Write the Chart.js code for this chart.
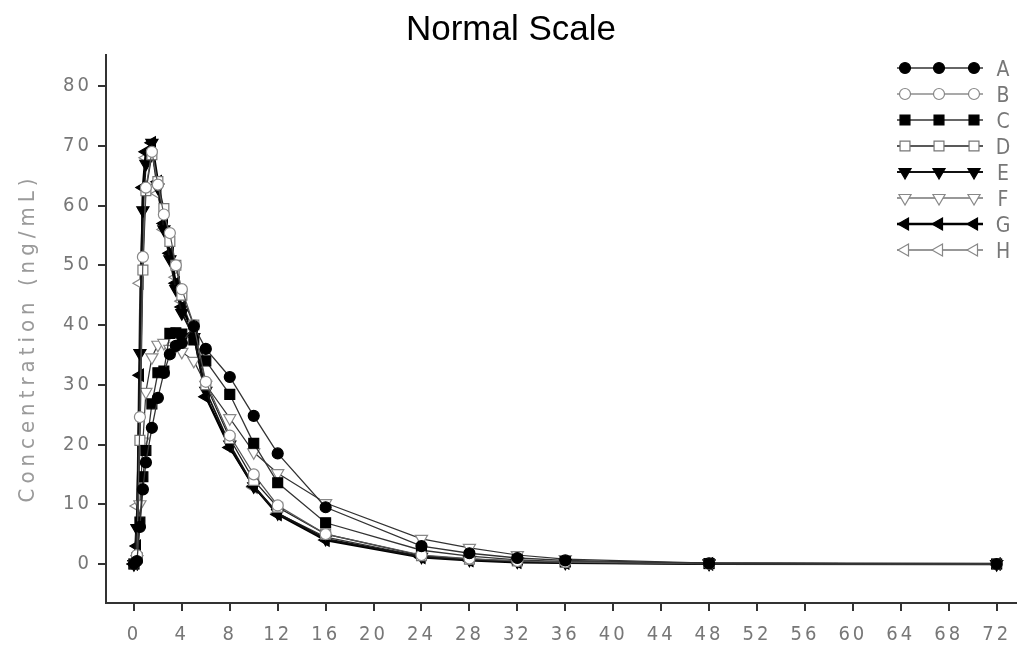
<!DOCTYPE html>
<html><head><meta charset="utf-8">
<script src="https://cdn.jsdelivr.net/npm/chart.js@4/dist/chart.umd.min.js"></script>
<style>html,body{margin:0;padding:0;background:#fff;}#wrap{width:1024px;height:649px;position:relative;}</style>
</head><body><div id="wrap"><canvas id="c" width="1024" height="649"></canvas></div>
<script>
const titleText = "Normal Scale";
const yAxisTitle = "Concentration (ng/mL)";
const seriesNames = ["A","B","C","D","E","F","G","H"];
const times = [0, 0.25, 0.5, 0.75, 1, 1.5, 2, 2.5, 3, 3.5, 4, 5, 6, 8, 10, 12, 16, 24, 28, 32, 36, 48, 72];
const xTicks = [0,4,8,12,16,20,24,28,32,36,40,44,48,52,56,60,64,68,72];
const yTicks = [0,10,20,30,40,50,60,70,80];
const valsA = [0, 0.5, 6.2, 12.5, 17, 22.8, 27.8, 32, 35.1, 36.5, 37, 39.8, 36, 31.3, 24.8, 18.5, 9.5, 3.0, 1.8, 1.0, 0.6, 0.1, 0];
const valsB = [0, 1.5, 24.6, 51.4, 63, 69, 63.5, 58.5, 55.4, 50, 46, 40, 30.5, 21.5, 15, 9.8, 5.0, 1.5, 0.9, 0.5, 0.3, 0.05, 0];
const valsC = [0, 1.0, 7.0, 14.6, 19, 26.8, 32, 32.3, 38.6, 38.7, 38.5, 37.5, 34, 28.4, 20.2, 13.6, 6.9, 2.3, 1.3, 0.7, 0.4, 0.08, 0];
const valsD = [0, 1.0, 20.7, 49.2, 62.5, 68.5, 64, 59.5, 54, 50, 45, 40, 30, 21, 14, 9.5, 5.0, 1.4, 0.8, 0.5, 0.3, 0.05, 0];
const valsE = [0, 6.0, 35.3, 59.2, 67, 70.5, 63, 56, 51, 46, 42, 38, 29, 20, 13, 8.5, 4.2, 1.2, 0.7, 0.4, 0.2, 0.05, 0];
const valsF = [0, 0.8, 10, 20.5, 28.8, 34.6, 36.7, 37, 36, 36.5, 35.5, 34, 30, 24.4, 18.7, 15.2, 10.2, 4.2, 2.7, 1.5, 0.8, 0.15, 0];
const valsG = [0, 3.0, 31.6, 63, 69, 70.5, 64, 57, 52, 47, 43, 38.5, 28, 19.5, 13, 8.3, 4.0, 1.1, 0.6, 0.3, 0.2, 0.03, 0];
const valsH = [0, 9.7, 47, 63, 68, 69, 62, 56, 52, 48, 44, 38.5, 28, 19.5, 12.8, 8.5, 4.5, 1.3, 0.7, 0.4, 0.2, 0.03, 0];
const allVals = [valsA, valsB, valsC, valsD, valsE, valsF, valsG, valsH];

const AXFONT = "'Liberation Sans Narrow','DejaVu Sans Condensed','DejaVu Sans',sans-serif";
const styles = [
  {ps:'circle', r:5.5, rot:0, fill:'#000', stroke:'#000', line:'#333', lw:1.3},
  {ps:'circle', r:5.5, rot:0, fill:'#fff', stroke:'#888', line:'#555', lw:1.2},
  {ps:'rect', r:7, rot:0, fill:'#000', stroke:'#000', line:'#333', lw:1.3},
  {ps:'rect', r:7, rot:0, fill:'#fff', stroke:'#777', line:'#222', lw:1.3},
  {ps:'triangle', r:7, rot:180, fill:'#000', stroke:'#000', line:'#111', lw:1.8},
  {ps:'triangle', r:7, rot:180, fill:'#fff', stroke:'#888', line:'#333', lw:1.2},
  {ps:'triangle', r:7, rot:270, fill:'#000', stroke:'#000', line:'#000', lw:2.4},
  {ps:'triangle', r:7, rot:270, fill:'#fff', stroke:'#888', line:'#333', lw:1.2}
];

const datasets = seriesNames.map((n,i)=>({
  label:n,
  data: times.map((t,j)=>({x:t, y:allVals[i][j]})),
  borderColor: styles[i].line,
  borderWidth: styles[i].lw,
  pointStyle: styles[i].ps,
  pointRadius: styles[i].r,
  pointRotation: styles[i].rot,
  pointBackgroundColor: styles[i].fill,
  pointBorderColor: styles[i].stroke,
  pointBorderWidth: 1.2,
  tension: 0
}));

const spacingPlugin = {
  id:'spacing',
  beforeDraw(chart){ chart.ctx.letterSpacing = '3px'; },
  beforeDatasetsDraw(chart){ chart.ctx.letterSpacing = '0px'; },
  afterDraw(chart){
    const ctx = chart.ctx;
    ctx.save();
    ctx.letterSpacing = '0px';
    ctx.fillStyle = '#000';
    ctx.font = "35px 'Liberation Sans', Arial, sans-serif";
    ctx.textAlign = 'center';
    ctx.textBaseline = 'alphabetic';
    ctx.fillText(titleText, 511, 40);
    // y axis title
    ctx.save();
    ctx.translate(28, 338);
    ctx.rotate(-Math.PI/2);
    ctx.letterSpacing = '5px';
    ctx.fillStyle = '#9a9a9a';
    ctx.font = "22px " + AXFONT;
    ctx.textAlign = 'center'; ctx.textBaseline = 'middle';
    ctx.fillText(yAxisTitle, 0, 0);
    ctx.restore();
    // legend
    const x0 = 897, x1 = 983, mk = [905, 939, 974];
    chart.data.datasets.forEach((ds,i)=>{
      const y = 68 + i*26;
      const s = styles[i];
      ctx.strokeStyle = s.line; ctx.lineWidth = s.lw;
      ctx.beginPath(); ctx.moveTo(x0,y); ctx.lineTo(x1,y); ctx.stroke();
      mk.forEach(mx=>{
        ctx.fillStyle = s.fill; ctx.strokeStyle = s.stroke; ctx.lineWidth = 1.2;
        Chart.helpers.drawPoint(ctx, {pointStyle:s.ps, radius:s.r, rotation:s.rot, borderWidth:1.2}, mx, y);
      });
      ctx.fillStyle = '#777';
      ctx.font = "21px " + AXFONT;
      ctx.textAlign = 'center'; ctx.textBaseline = 'middle';
      ctx.fillText(ds.label, 1003, y+3);
    });
    ctx.restore();
  }
};

new Chart(document.getElementById('c'), {
  type:'line',
  data:{datasets},
  plugins:[spacingPlugin],
  options:{
    responsive:false, animation:false, devicePixelRatio:1,
    layout:{padding:{top:55, right:2, left:0, bottom:0}},
    plugins:{legend:{display:false}, title:{display:false}, tooltip:{enabled:false}},
    scales:{
      x:{type:'linear', min:-2.33, max:73.6,
        afterBuildTicks(s){ s.ticks = xTicks.map(v=>({value:v})); },
        afterFit(s){ s.height = 46; },
        border:{display:true, color:'#333', width:2},
        grid:{drawOnChartArea:false, drawTicks:true, tickLength:8, color:'#333', lineWidth:2},
        ticks:{color:'#777', font:{family:AXFONT, size:20}, padding:12, maxRotation:0, autoSkip:false}
      },
      y:{type:'linear', min:-6.53, max:85.2,
        afterBuildTicks(s){ s.ticks = yTicks.map(v=>({value:v})); },
        afterFit(s){ s.width = 106; },
        border:{display:true, color:'#333', width:2},
        grid:{drawOnChartArea:false, drawTicks:true, tickLength:8, color:'#333', lineWidth:2},
        ticks:{color:'#777', font:{family:AXFONT, size:20}, padding:6}
      }
    }
  }
});
</script></body></html>
